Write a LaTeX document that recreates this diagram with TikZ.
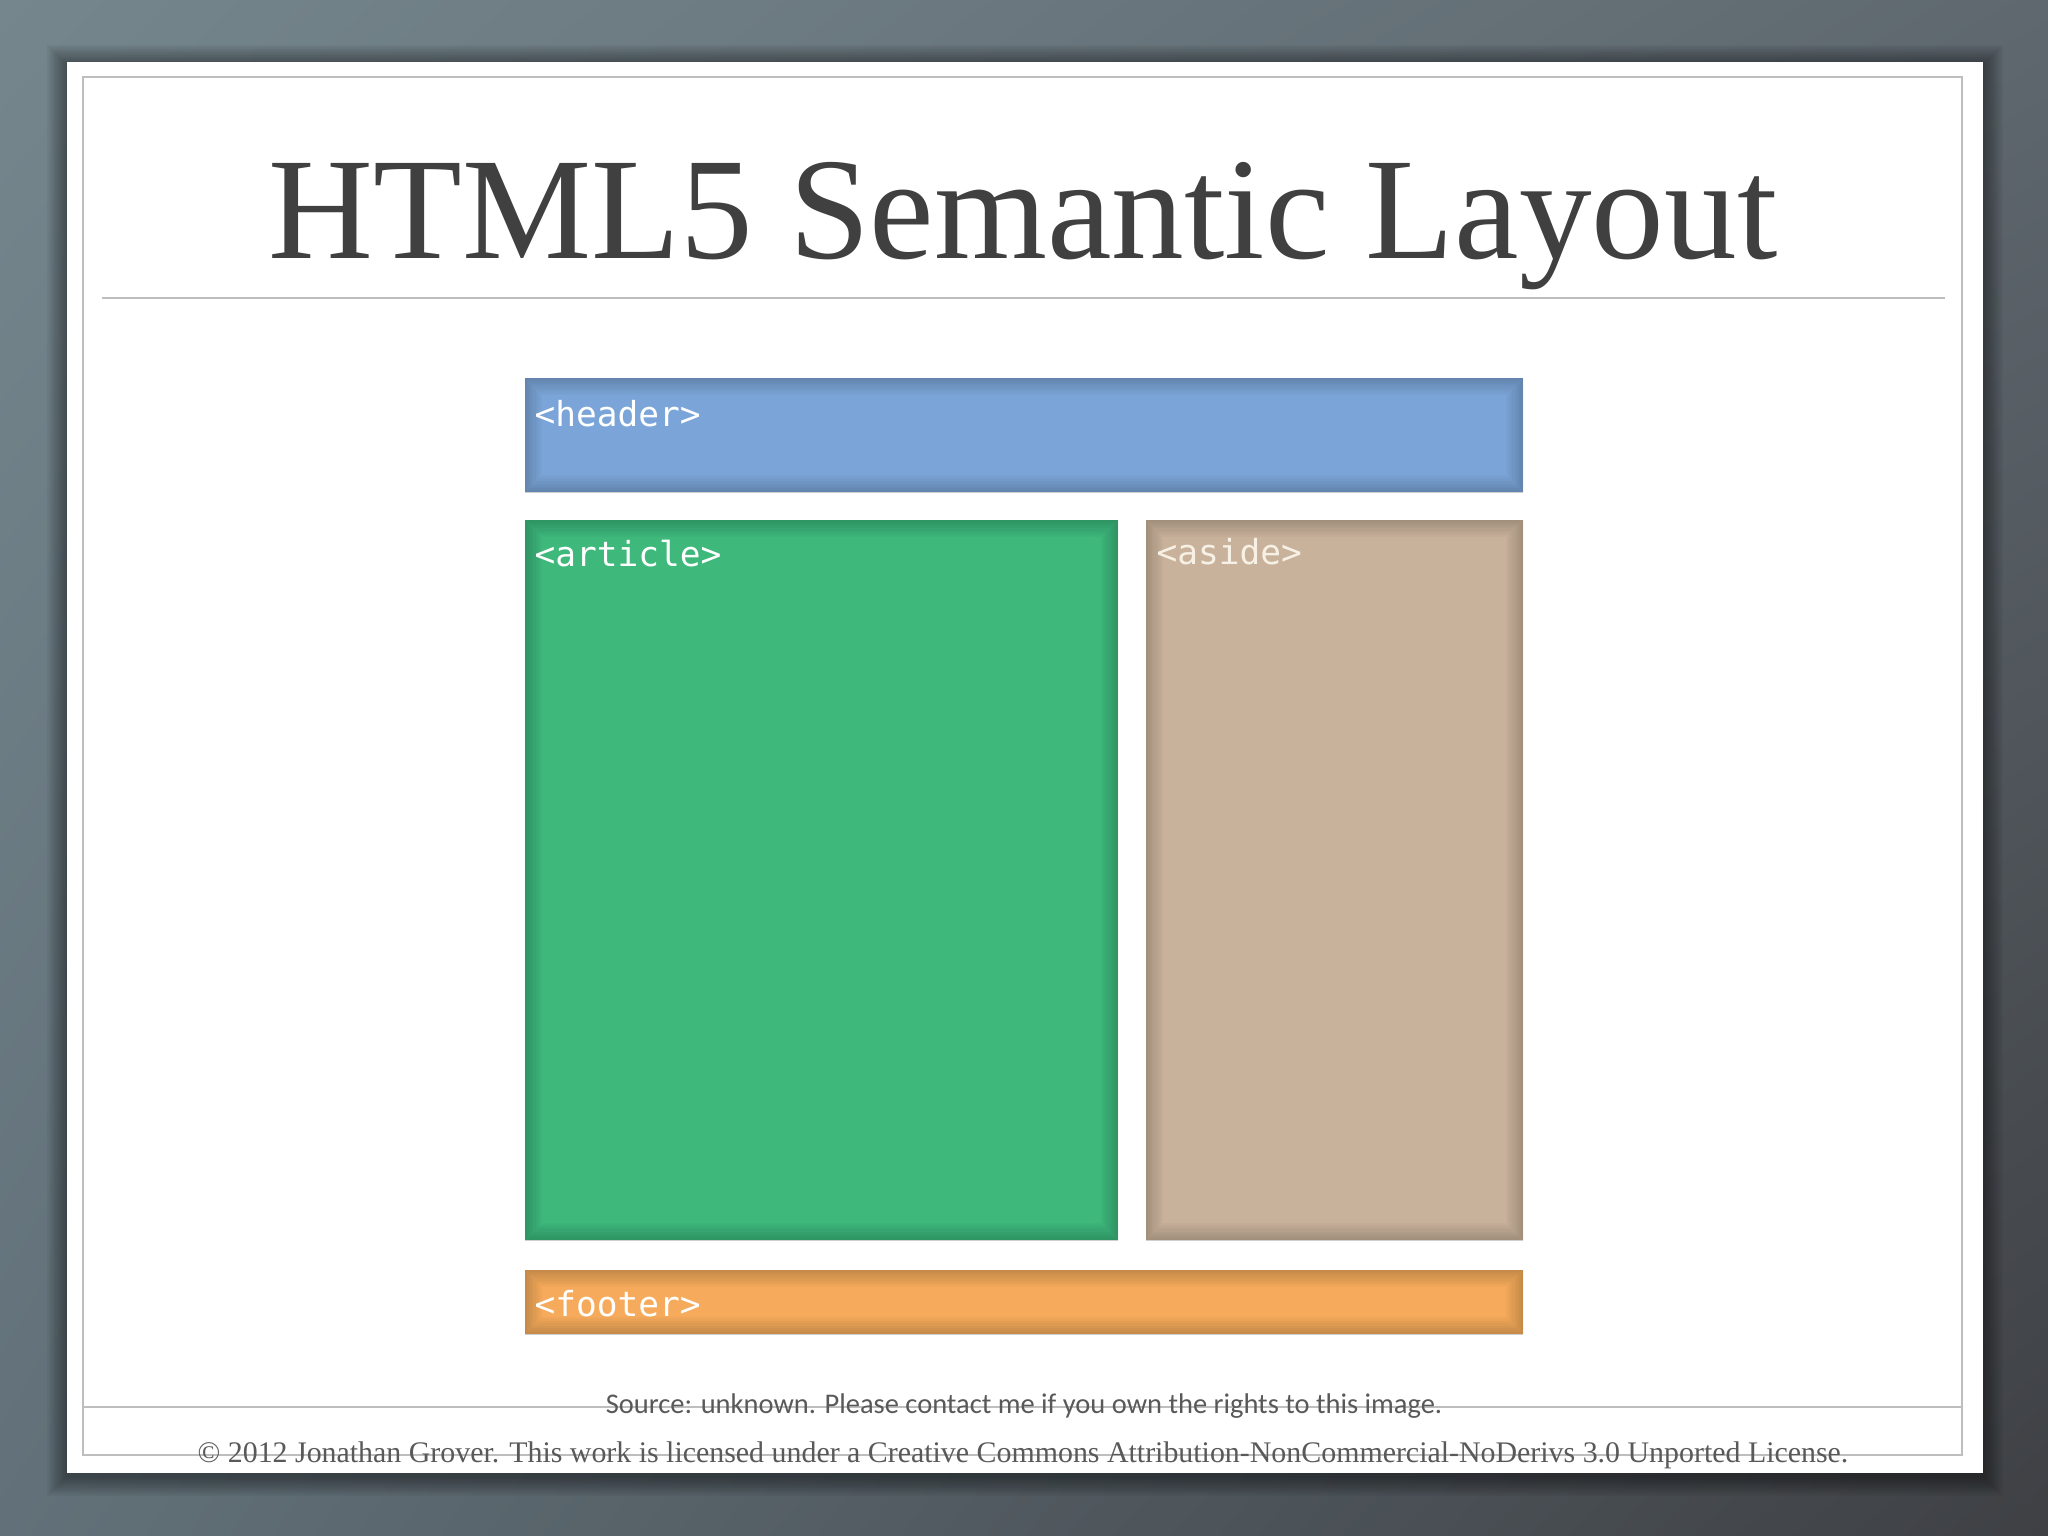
\documentclass[tikz,border=0pt]{standalone}
\usepackage{fontspec}
\setmainfont{Liberation Serif}
\newfontfamily\tagfont{DejaVu Sans Mono}
\newfontfamily\notefont{Carlito}
\usetikzlibrary{fit,shadings}

\definecolor{bgtl}{RGB}{117,134,141}
\definecolor{bgtr}{RGB}{95,104,111}
\definecolor{bgbl}{RGB}{98,113,121}
\definecolor{bgbr}{RGB}{62,64,68}
\definecolor{headerblue}{RGB}{123,165,216}
\definecolor{articlegreen}{RGB}{62,184,123}
\definecolor{asidetan}{RGB}{201,178,155}
\definecolor{asidetext}{RGB}{247,240,228}
\definecolor{footerorange}{RGB}{245,170,92}
\definecolor{titlegray}{RGB}{64,64,64}
\definecolor{framegray}{RGB}{190,190,190}
\definecolor{notegray}{RGB}{89,89,89}

\tikzset{
  region/.style={rectangle, inner sep=0pt, outer sep=0pt,
    path picture={
      \foreach \w in {1,...,8}
        \draw[black, opacity=0.022, line width=\w*1.2pt]
          (path picture bounding box.south west) rectangle (path picture bounding box.north east);
    }},
  tag/.style={anchor=base west, inner sep=0pt, text=white,
    font=\tagfont\fontsize{9.8}{12}\selectfont},
  note/.style={anchor=base, inner sep=0pt, text=notegray},
}

\begin{document}
\begin{tikzpicture}[x=0.01cm, y=-0.01cm]
  \useasboundingbox (0,0) rectangle (2048,1536);
  % Background
  \shade[upper left=bgtl, upper right=bgtr, lower left=bgbl, lower right=bgbr]
    (0,0) rectangle (2048,1536);
  % Slide shadow
  \foreach \d in {2,4,...,20}
    \fill[black, opacity=0.045] (67-\d,62-\d+3) rectangle (1983+\d,1473+\d+3);
  % Slide
  \fill[white] (67,62) rectangle (1983,1473);
  \draw[framegray, line width=0.6pt] (83,77) rectangle (1962,1455);
  \draw[framegray, line width=0.6pt] (83,1407) -- (1962,1407);
  % Title
  \node[anchor=base, inner sep=0pt, text=titlegray, font=\fontsize{41.3}{48}\selectfont]
    (title) at (1023,258) {HTML5 Semantic Layout};
  \draw[framegray, line width=0.5pt] (102,298) -- (1945,298);
  % Layout regions
  \node[region, fill=headerblue, fit={(525,378) (1523,492)}] (header) {};
  \node[region, fill=articlegreen, fit={(525,520) (1118,1240)}] (article) {};
  \node[region, fill=asidetan, fit={(1146,520) (1523,1240)}] (aside) {};
  \node[region, fill=footerorange, fit={(525,1270) (1523,1334)}] (footer) {};
  % Tags
  \node[tag] (headertag) at ([shift={(9,48)}]header.north west) {<header>};
  \node[tag] (articletag) at ([shift={(9,46)}]article.north west) {<article>};
  \node[tag, text=asidetext] (asidetag) at ([shift={(10,44)}]aside.north west) {<aside>};
  \node[tag] (footertag) at ([shift={(9,46)}]footer.north west) {<footer>};
  % Notes
  \node[note, font=\notefont\fontsize{8.1}{10}\selectfont] (source) at (1024,1413)
    {Source: unknown. Please contact me if you own the rights to this image.};
  \node[note, font=\fontsize{8.5}{10}\selectfont] (credit) at (1023,1462)
    {\textcopyright{} 2012 Jonathan Grover. This work is licensed under a Creative Commons Attribution-NonCommercial-NoDerivs 3.0 Unported License.};
\end{tikzpicture}
\end{document}
